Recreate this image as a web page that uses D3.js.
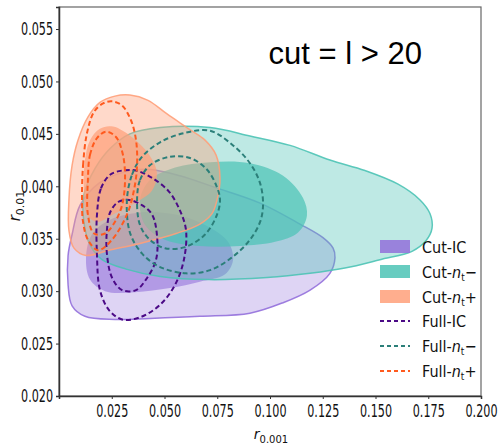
<!DOCTYPE html>
<html>
<head>
<meta charset="utf-8">
<script src="https://cdn.jsdelivr.net/npm/d3@7"></script>
<style>
  html, body { margin: 0; padding: 0; background: #fff; }
  svg { display: block; }
</style>
</head>
<body>
<svg id="chart" width="502" height="445"></svg>
<script>
// Axis ticks
const xTicks = [0.025, 0.050, 0.075, 0.100, 0.125, 0.150, 0.175, 0.200];
const yTicks = [0.020, 0.025, 0.030, 0.035, 0.040, 0.045, 0.050, 0.055];

// Credible-region contours in (r_0.001, r_0.01); outer = 95%, inner = 68%
const cutICOuter = [
  [0.0062,0.0354],[0.0100,0.0382],[0.0190,0.0403],[0.0318,0.0414],[0.0431,0.0416],
  [0.0573,0.0410],[0.0739,0.0399],[0.0953,0.0384],[0.1142,0.0364],[0.1251,0.0351],
  [0.1299,0.0341],[0.1308,0.0332],[0.1284,0.0317],[0.1190,0.0301],[0.1062,0.0289],
  [0.0905,0.0279],[0.0668,0.0276],[0.0431,0.0274],[0.0265,0.0273],[0.0123,0.0276],
  [0.0062,0.0286],[0.0043,0.0306],[0.0043,0.0334]
];
const cutICInner = [
  [0.0128,0.0332],[0.0156,0.0354],[0.0242,0.0368],[0.0384,0.0375],[0.0550,0.0373],
  [0.0692,0.0363],[0.0801,0.0347],[0.0825,0.0330],[0.0787,0.0316],[0.0668,0.0309],
  [0.0526,0.0303],[0.0360,0.0299],[0.0218,0.0300],[0.0147,0.0311]
];
const cutNtMinusOuter = [
  [0.0118,0.0392],[0.0171,0.0417],[0.0242,0.0436],[0.0336,0.0450],[0.0479,0.0456],
  [0.0716,0.0456],[0.0905,0.0448],[0.1095,0.0439],[0.1284,0.0425],[0.1450,0.0415],
  [0.1607,0.0402],[0.1711,0.0387],[0.1758,0.0374],[0.1768,0.0360],[0.1739,0.0348],
  [0.1673,0.0338],[0.1521,0.0330],[0.1355,0.0322],[0.1190,0.0317],[0.0986,0.0313],
  [0.0711,0.0311],[0.0479,0.0314],[0.0318,0.0321],[0.0204,0.0330],[0.0147,0.0344],
  [0.0118,0.0366]
];
const cutNtMinusInner = [
  [0.0384,0.0387],[0.0431,0.0406],[0.0550,0.0418],[0.0716,0.0423],[0.0905,0.0422],
  [0.1062,0.0410],[0.1156,0.0389],[0.1175,0.0372],[0.1133,0.0356],[0.1024,0.0347],
  [0.0858,0.0343],[0.0668,0.0343],[0.0502,0.0349],[0.0408,0.0363]
];
const cutNtPlusOuter = [
  [0.0047,0.0387],[0.0062,0.0420],[0.0090,0.0444],[0.0137,0.0466],[0.0194,0.0480],
  [0.0265,0.0486],[0.0336,0.0487],[0.0422,0.0482],[0.0512,0.0469],[0.0621,0.0454],
  [0.0692,0.0444],[0.0744,0.0430],[0.0763,0.0408],[0.0749,0.0387],[0.0725,0.0374],
  [0.0668,0.0364],[0.0555,0.0355],[0.0393,0.0346],[0.0237,0.0339],[0.0128,0.0334],
  [0.0071,0.0341],[0.0047,0.0358]
];
const cutNtPlusInner = [
  [0.0123,0.0425],[0.0147,0.0444],[0.0194,0.0455],[0.0256,0.0457],[0.0351,0.0446],
  [0.0431,0.0429],[0.0464,0.0413],[0.0441,0.0396],[0.0360,0.0384],[0.0265,0.0374],
  [0.0180,0.0366],[0.0133,0.0373],[0.0118,0.0396]
];
const fullICOuter = [
  [0.0180,0.0373],[0.0199,0.0398],[0.0242,0.0411],[0.0299,0.0415],[0.0365,0.0415],
  [0.0441,0.0408],[0.0521,0.0395],[0.0573,0.0377],[0.0602,0.0358],[0.0592,0.0330],
  [0.0550,0.0306],[0.0479,0.0287],[0.0384,0.0275],[0.0299,0.0273],[0.0237,0.0282],
  [0.0194,0.0301],[0.0180,0.0334]
];
const fullICInner = [
  [0.0242,0.0375],[0.0280,0.0385],[0.0332,0.0387],[0.0393,0.0382],[0.0441,0.0373],
  [0.0464,0.0354],[0.0460,0.0330],[0.0412,0.0311],[0.0365,0.0301],[0.0299,0.0301],
  [0.0251,0.0313],[0.0227,0.0336],[0.0227,0.0358]
];
const fullNtMinusOuter = [
  [0.0322,0.0387],[0.0346,0.0411],[0.0393,0.0428],[0.0479,0.0442],[0.0597,0.0451],
  [0.0716,0.0453],[0.0825,0.0439],[0.0905,0.0422],[0.0953,0.0403],[0.0967,0.0382],
  [0.0953,0.0366],[0.0905,0.0349],[0.0825,0.0333],[0.0716,0.0320],[0.0602,0.0317],
  [0.0479,0.0323],[0.0393,0.0336],[0.0336,0.0356]
];
const fullNtMinusInner = [
  [0.0370,0.0387],[0.0384,0.0406],[0.0431,0.0420],[0.0521,0.0428],[0.0621,0.0427],
  [0.0701,0.0416],[0.0749,0.0399],[0.0763,0.0387],[0.0749,0.0373],[0.0692,0.0354],
  [0.0597,0.0342],[0.0502,0.0341],[0.0431,0.0349],[0.0384,0.0363]
];
const fullNtPlusOuter = [
  [0.0109,0.0387],[0.0114,0.0420],[0.0133,0.0451],[0.0166,0.0471],[0.0209,0.0479],
  [0.0251,0.0481],[0.0299,0.0477],[0.0341,0.0463],[0.0365,0.0444],[0.0370,0.0420],
  [0.0355,0.0396],[0.0322,0.0373],[0.0251,0.0349],[0.0185,0.0339],[0.0137,0.0349],
  [0.0114,0.0366]
];
const fullNtPlusInner = [
  [0.0137,0.0406],[0.0147,0.0430],[0.0180,0.0446],[0.0223,0.0452],[0.0270,0.0447],
  [0.0303,0.0430],[0.0313,0.0406],[0.0299,0.0382],[0.0265,0.0366],[0.0218,0.0355],
  [0.0166,0.0355],[0.0137,0.0373]
];

const legendNames = ["Cut-IC", "Cut-nt\u2212", "Cut-nt+", "Full-IC", "Full-nt\u2212", "Full-nt+"];

const colIC = "#9370db", colMinus = "#4cc3b5", colPlus = "#ffa07a";
const dashIC = "#4b0a86", dashMinus = "#2b7f79", dashPlus = "#ff5a1e";

const svg = d3.select("#chart");
const W = 502, H = 445;
const m = { left: 59, right: 21, top: 7, bottom: 49 };

const x = d3.scaleLinear().domain([0, 0.2]).range([m.left, W - m.right]);
const y = d3.scaleLinear().domain([0.020, 0.0571]).range([H - m.bottom, m.top]);

const line = d3.line().x(d => x(d[0])).y(d => y(d[1])).curve(d3.curveCatmullRomClosed.alpha(0.5));

svg.append("defs").append("clipPath").attr("id", "plotclip")
  .append("rect").attr("x", m.left).attr("y", m.top)
  .attr("width", W - m.left - m.right).attr("height", H - m.top - m.bottom);

const plot = svg.append("g").attr("clip-path", "url(#plotclip)");

// Filled regions, one model after another
const filled = [
  { outer: cutICOuter, inner: cutICInner, color: colIC, oa: 0.30, ia: 0.58 },
  { outer: cutNtMinusOuter, inner: cutNtMinusInner, color: colMinus, oa: 0.36, ia: 0.72 },
  { outer: cutNtPlusOuter, inner: cutNtPlusInner, color: colPlus, oa: 0.40, ia: 0.72 }
];
filled.forEach(f => {
  plot.append("path").attr("d", line(f.outer))
    .attr("fill", f.color).attr("fill-opacity", f.oa).attr("stroke", "none");
  plot.append("path").attr("d", line(f.inner))
    .attr("fill", f.color).attr("fill-opacity", f.ia).attr("stroke", "none");
  plot.append("path").attr("d", line(f.outer))
    .attr("fill", "none").attr("stroke", f.color).attr("stroke-width", 1.5).attr("stroke-opacity", 0.9);
});

// Dashed contours of the full-sky runs
const dashed = [
  { c: fullICOuter, color: dashIC }, { c: fullICInner, color: dashIC },
  { c: fullNtMinusOuter, color: dashMinus }, { c: fullNtMinusInner, color: dashMinus },
  { c: fullNtPlusOuter, color: dashPlus }, { c: fullNtPlusInner, color: dashPlus }
];
dashed.forEach(d => {
  plot.append("path").attr("d", line(d.c))
    .attr("fill", "none").attr("stroke", d.color).attr("stroke-width", 2)
    .attr("stroke-dasharray", "5,3");
});

// Frame
svg.append("rect").attr("x", m.left).attr("y", m.top)
  .attr("width", W - m.left - m.right).attr("height", H - m.top - m.bottom)
  .attr("fill", "none").attr("stroke", "#666").attr("stroke-width", 1.2);

const tickFont = "'Liberation Sans Narrow','DejaVu Sans Condensed','Liberation Sans',Arial,sans-serif";

const yAxis = svg.append("g").attr("transform", `translate(${m.left},0)`)
  .call(d3.axisLeft(y).tickValues(yTicks).tickFormat(d3.format(".3f")).tickSize(3).tickPadding(3));
const xAxis = svg.append("g").attr("transform", `translate(0,${H - m.bottom})`)
  .call(d3.axisBottom(x).tickValues(xTicks).tickFormat(d3.format(".3f")).tickSize(3).tickPadding(5));

// Narrow tick labels: squeeze each label horizontally to a fixed width
function narrow(sel, width) {
  sel.each(function () {
    const t = d3.select(this);
    const len = this.getComputedTextLength();
    const sx = len > width ? width / len : 1;
    const x0 = +t.attr("x") || 0;
    t.attr("x", x0 / sx).attr("transform", `scale(${sx},1)`);
  });
}
[yAxis, xAxis].forEach(a => {
  a.select(".domain").attr("stroke", "#333").attr("stroke-width", 1.5);
  a.selectAll(".tick line").attr("stroke", "#333");
  a.selectAll(".tick text").attr("font-family", tickFont).attr("font-size", 18).attr("fill", "#111");
  narrow(a.selectAll(".tick text"), 32);
});

// Axis labels
const xl = svg.append("text").attr("x", 271).attr("y", 439).attr("text-anchor", "middle")
  .attr("font-family", "'DejaVu Sans',sans-serif").attr("font-size", 14).attr("fill", "#111");
xl.append("tspan").attr("font-style", "italic").text("r");
xl.append("tspan").attr("font-size", 10).attr("dy", 4).text("0.001");

const yl = svg.append("text").attr("transform", "translate(20,206) rotate(-90)").attr("text-anchor", "middle")
  .attr("font-family", "'DejaVu Sans',sans-serif").attr("font-size", 15).attr("fill", "#111");
yl.append("tspan").attr("font-style", "italic").text("r");
yl.append("tspan").attr("font-size", 11).attr("dy", 4).text("0.01");

// Title inside the panel
svg.append("text").attr("x", 422).attr("y", 64).attr("text-anchor", "end")
  .attr("font-family", "'Liberation Sans',Arial,sans-serif").attr("font-size", 31).attr("fill", "#000")
  .text("cut = l > 20");

// Legend
const legend = svg.append("g");
const rowY = [246.5, 271.5, 296.5, 321, 346, 371];
const legendItems = [
  { kind: "patch", color: colIC, main: "Cut-IC" },
  { kind: "patch", color: colMinus, main: "Cut-", sup: "\u2212" },
  { kind: "patch", color: colPlus, main: "Cut-", sup: "+" },
  { kind: "dash", color: dashIC, main: "Full-IC" },
  { kind: "dash", color: dashMinus, main: "Full-", sup: "\u2212" },
  { kind: "dash", color: dashPlus, main: "Full-", sup: "+" }
];
legendItems.forEach((it, i) => {
  const cy = rowY[i];
  if (it.kind === "patch") {
    legend.append("rect").attr("x", 380).attr("y", cy - 6.5).attr("width", 30).attr("height", 13)
      .attr("fill", it.color).attr("fill-opacity", 0.85);
  } else {
    legend.append("line").attr("x1", 380).attr("x2", 410).attr("y1", cy).attr("y2", cy)
      .attr("stroke", it.color).attr("stroke-width", 2).attr("stroke-dasharray", "4,3");
  }
  const t = legend.append("text").attr("x", 422).attr("y", cy + 6)
    .attr("font-family", tickFont).attr("font-size", 16).attr("fill", "#111")
    .attr("data-name", legendNames[i]);
  t.append("tspan").text(it.main);
  if (it.sup) {
    t.append("tspan").attr("font-style", "italic").text("n");
    t.append("tspan").attr("font-size", 10).attr("dy", 3).text("t");
    t.append("tspan").attr("dy", -3).text(it.sup);
  }
});
</script>
</body>
</html>
